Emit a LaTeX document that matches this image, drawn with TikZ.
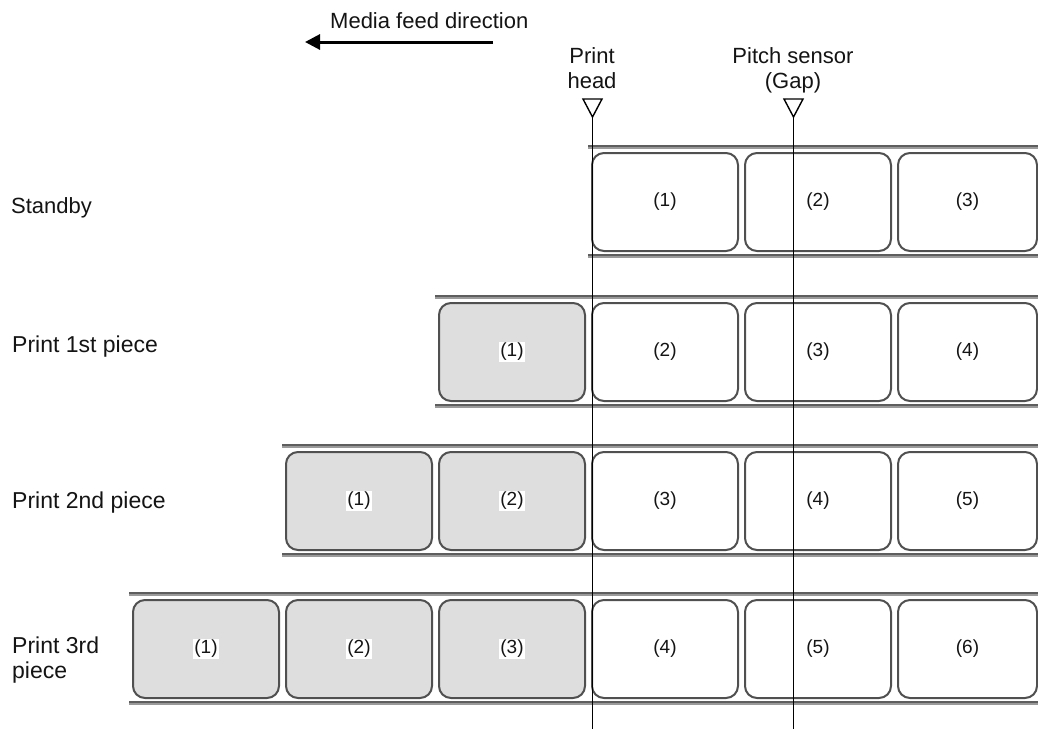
\documentclass[tikz,border=0pt]{standalone}
\usepackage{fontspec}
\setmainfont{Liberation Sans}
\usetikzlibrary{arrows.meta}
\definecolor{boxline}{HTML}{505050}
\definecolor{railcol}{HTML}{9A9A9A}
\definecolor{raildark}{HTML}{5E5E5E}
\definecolor{doneGray}{HTML}{DEDEDE}
\definecolor{txt}{HTML}{141414}
\tikzset{
  labelbox/.style={draw=boxline, line width=2pt, rounded corners=12pt, minimum height=98pt, inner sep=0pt, fill=white},
  donebox/.style={labelbox, fill=doneGray},
  boxnum/.style={font=\fontsize{19}{21}\selectfont, text=txt, fill=white, inner sep=1pt},
  rowtext/.style={font=\fontsize{23}{25}\selectfont, text=txt, anchor=base west, inner sep=0pt},
  headtext/.style={font=\fontsize{22}{25}\selectfont, text=txt, anchor=base, inner sep=0pt},
  rail/.style={draw=railcol, line width=3pt},
  railedge/.style={draw=raildark, line width=1.2pt},
  marker/.style={draw=black, line width=1.4pt, fill=white, line join=miter},
  sensorline/.style={draw=black, line width=1.4pt},
  feed/.style={draw=black, line width=3pt, -{Triangle[length=15pt,width=15pt]}},
}
\begin{document}
\begin{tikzpicture}[x=1pt,y=-1pt]
\useasboundingbox (0,0) rectangle (1038,729);
\fill[white] (0,0) rectangle (1038,729);

% header
\node[headtext, anchor=base west] (mfd) at (330,28) {Media feed direction};
\coordinate (arS) at (493,42);
\coordinate (arE) at (305,42);
\draw[feed] (arS) -- (arE);

\node[headtext] (ph1) at (592,63) {Print};
\node[headtext] (ph2) at (592,88) {head};
\node[headtext] (ps1) at (793,63) {Pitch sensor};
\node[headtext] (ps2) at (793,88) {(Gap)};

% row labels
\node[rowtext, font=\fontsize{22}{25}\selectfont] (l1) at (11,213) {Standby};
\node[rowtext] (l2) at (12,352) {Print 1st piece};
\node[rowtext] (l3) at (12,508) {Print 2nd piece};
\node[rowtext] (l4a) at (12,653) {Print 3rd};
\node[rowtext] (l4b) at (12,678) {piece};

% rails
\foreach \yc/\xs in {202/588, 352/435, 501/282, 649/129}{
  \draw[rail] (\xs,\yc-55) -- (1038,\yc-55);
  \draw[railedge] (\xs,\yc-56) -- (1038,\yc-56);
  \draw[rail] (\xs,\yc+54) -- (1038,\yc+54);
  \draw[railedge] (\xs,\yc+53) -- (1038,\yc+53);
}

% row 1 (standby)
\node[labelbox, minimum width=146pt] (r1a) at (665,202) {};
\node[labelbox, minimum width=146pt] (r1b) at (818,202) {};
\node[labelbox, minimum width=139pt] (r1c) at (967.5,202) {};
\node[boxnum] (t1a) at (r1a.center) {(1)};
\node[boxnum] (t1b) at (r1b.center) {(2)};
\node[boxnum] (t1c) at (r1c.center) {(3)};

% row 2
\node[donebox, minimum width=146pt] (r2a) at (512,352) {};
\node[labelbox, minimum width=146pt] (r2b) at (665,352) {};
\node[labelbox, minimum width=146pt] (r2c) at (818,352) {};
\node[labelbox, minimum width=139pt] (r2d) at (967.5,352) {};
\node[boxnum] (t2a) at (r2a.center) {(1)};
\node[boxnum] (t2b) at (r2b.center) {(2)};
\node[boxnum] (t2c) at (r2c.center) {(3)};
\node[boxnum] (t2d) at (r2d.center) {(4)};

% row 3
\node[donebox, minimum width=146pt] (r3a) at (359,501) {};
\node[donebox, minimum width=146pt] (r3b) at (512,501) {};
\node[labelbox, minimum width=146pt] (r3c) at (665,501) {};
\node[labelbox, minimum width=146pt] (r3d) at (818,501) {};
\node[labelbox, minimum width=139pt] (r3e) at (967.5,501) {};
\node[boxnum] (t3a) at (r3a.center) {(1)};
\node[boxnum] (t3b) at (r3b.center) {(2)};
\node[boxnum] (t3c) at (r3c.center) {(3)};
\node[boxnum] (t3d) at (r3d.center) {(4)};
\node[boxnum] (t3e) at (r3e.center) {(5)};

% row 4
\node[donebox, minimum width=146pt] (r4a) at (206,649) {};
\node[donebox, minimum width=146pt] (r4b) at (359,649) {};
\node[donebox, minimum width=146pt] (r4c) at (512,649) {};
\node[labelbox, minimum width=146pt] (r4d) at (665,649) {};
\node[labelbox, minimum width=146pt] (r4e) at (818,649) {};
\node[labelbox, minimum width=139pt] (r4f) at (967.5,649) {};
\node[boxnum] (t4a) at (r4a.center) {(1)};
\node[boxnum] (t4b) at (r4b.center) {(2)};
\node[boxnum] (t4c) at (r4c.center) {(3)};
\node[boxnum] (t4d) at (r4d.center) {(4)};
\node[boxnum] (t4e) at (r4e.center) {(5)};
\node[boxnum] (t4f) at (r4f.center) {(6)};

% sensor markers and lines
\coordinate (phTip) at (592.5,117);
\coordinate (phEnd) at (592.5,729);
\coordinate (psTip) at (793.5,117);
\coordinate (psEnd) at (793.5,729);
\draw[sensorline] (phTip) -- (phEnd);
\draw[sensorline] (psTip) -- (psEnd);
\draw[marker] (583,99) -- (602,99) -- (phTip) -- cycle;
\draw[marker] (784,99) -- (803,99) -- (psTip) -- cycle;
\end{tikzpicture}
\end{document}
